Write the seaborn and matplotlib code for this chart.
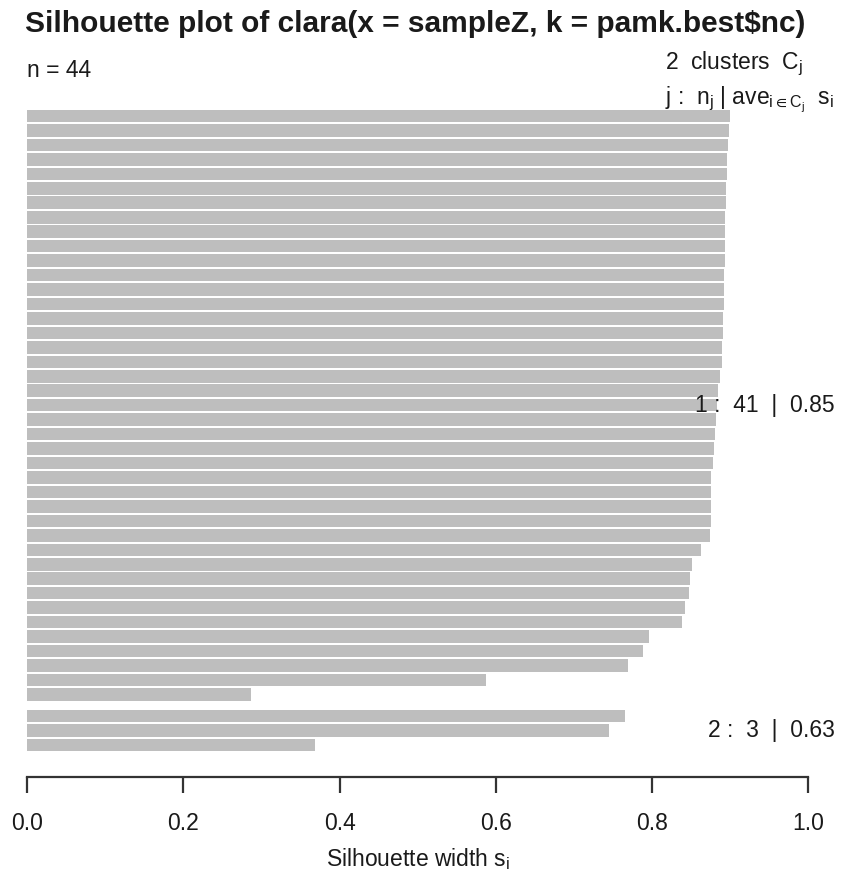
import numpy as np
import pandas as pd
import matplotlib
matplotlib.use("Agg")
import matplotlib.pyplot as plt
import seaborn as sns

# ---- data ----
title = "Silhouette plot of clara(x = sampleZ, k = pamk.best$nc)"
cluster1_widths = [0.900, 0.898, 0.897, 0.896, 0.896, 0.895, 0.895, 0.894, 0.894, 0.893,
                   0.893, 0.892, 0.892, 0.892, 0.891, 0.891, 0.890, 0.889, 0.887, 0.885,
                   0.883, 0.882, 0.881, 0.879, 0.878, 0.876, 0.876, 0.875, 0.875, 0.874,
                   0.863, 0.851, 0.849, 0.847, 0.842, 0.838, 0.796, 0.788, 0.769,
                   0.587, 0.287]
cluster2_widths = [0.766, 0.745, 0.369]
cluster_ids = [1, 2]
cluster_avg_labels = ["0.85", "0.63"]
xticks = [0.0, 0.2, 0.4, 0.6, 0.8, 1.0]
xtick_labels = ["0.0", "0.2", "0.4", "0.6", "0.8", "1.0"]

# ---- table ----
widths = cluster1_widths + cluster2_widths
clusters = [1] * len(cluster1_widths) + [2] * len(cluster2_widths)
GAP = 0.5
df = pd.DataFrame({"width": widths, "cluster": clusters})
df["pos"] = np.arange(len(df)) + GAP * (df["cluster"] - 1)

sns.set_style("white")
plt.rcParams["font.family"] = ["Liberation Sans", "DejaVu Sans"]
plt.rcParams["mathtext.default"] = "regular"
TXT = "#1a1a1a"
plt.rcParams["text.color"] = TXT
FS = 16.5

W, H = 843, 876
fig = plt.figure(figsize=(W / 100, H / 100), dpi=100)
px_left, px_right, px_top, px_bottom = 27, 808.3, 82, 777
ax = fig.add_axes([px_left / W, 1 - px_bottom / H,
                   (px_right - px_left) / W, (px_bottom - px_top) / H])

sns.barplot(data=df, x="width", y="pos", orient="h", native_scale=True,
            color="#BEBEBE", saturation=1, width=1.0, linewidth=0,
            errorbar=None, ax=ax)
# R draws bars touching with a thin light separator; trim each bar slightly
for p in ax.patches:
    h = p.get_height()
    p.set_height(h * 0.87)
    p.set_y(p.get_y() + h * 0.065)

ax.set_xlim(0, 1)
ax.set_ylim(45.71, -2.35)
for s in ["top", "left", "right"]:
    ax.spines[s].set_visible(False)
ax.spines["bottom"].set_color("#333333")
ax.spines["bottom"].set_linewidth(1.6)
ax.set_yticks([])
ax.set_ylabel("")
ax.set_xticks(xticks)
ax.set_xticklabels(xtick_labels)
ax.tick_params(axis="x", bottom=True, direction="out", length=11.5, width=1.6,
               color="#333333", pad=13.5, labelsize=FS, labelcolor=TXT)

ax.set_xlabel(r"Silhouette width $s_i$", fontsize=FS, color=TXT)
ax.xaxis.set_label_coords(0.5, (px_bottom - 866) / (px_bottom - px_top))
ax.xaxis.label.set_va("baseline")

# cluster labels
for cid, avg in zip(cluster_ids, cluster_avg_labels):
    sub = df[df["cluster"] == cid]
    n = len(sub)
    ax.text(1.034, sub["pos"].mean(), f"{cid} :  {n}  |  {avg}",
            ha="right", va="center", fontsize=FS, clip_on=False)

# header texts
fig.text(25 / W, 1 - 32 / H, title, ha="left", va="baseline",
         fontsize=21.5, fontweight="bold")
fig.text(27 / W, 1 - 77 / H, f"n = {len(df)}", ha="left", va="baseline",
         fontsize=FS)
fig.text(665 / W, 1 - 69 / H, f"{len(cluster_ids)}  clusters  $C_j$",
         ha="left", va="baseline", fontsize=FS)
fig.text(665 / W, 1 - 104 / H, r"j :  $n_j$ | $ave_{i\in C_j}$  $s_i$",
         ha="left", va="baseline", fontsize=FS)

fig.savefig("out.png", dpi=100)
